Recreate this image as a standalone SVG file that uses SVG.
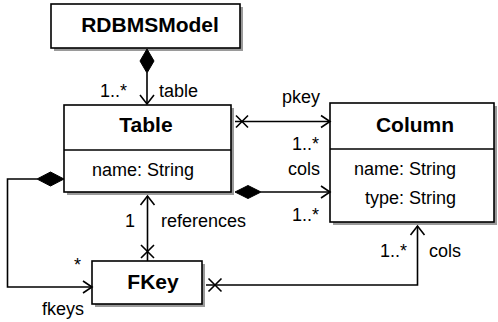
<svg xmlns="http://www.w3.org/2000/svg" width="498" height="322" viewBox="0 0 498 322">
<style>
.box{fill:#fff;stroke:#000;stroke-width:1.6}
.sh{fill:#9a9a9a}
.div{stroke:#000;stroke-width:1.6}
.ln{fill:none;stroke:#000;stroke-width:1.6}
.dm{fill:#000;stroke:#000;stroke-width:1}
text{font-family:"Liberation Sans",Arial,sans-serif;font-size:18px;fill:#000}
.b{font-weight:bold;font-size:21px}
</style>
<g id="RDBMSModel">
<rect class="sh" x="54" y="7" width="189" height="44"/>
<rect class="box" x="51" y="4" width="189" height="44"/>
<text class="b" x="150" y="32" text-anchor="middle">RDBMSModel</text>
</g>
<g id="Table">
<rect class="sh" x="67" y="108" width="167" height="87"/>
<rect class="box" x="64" y="105" width="167" height="87"/>
<line class="div" x1="64" y1="150" x2="231" y2="150"/>
<text class="b" x="146" y="132" text-anchor="middle">Table</text>
<text x="143" y="176" text-anchor="middle">name: String</text>
</g>
<g id="Column">
<rect class="sh" x="333" y="106" width="164" height="119"/>
<rect class="box" x="330" y="103" width="164" height="119"/>
<line class="div" x1="330" y1="149" x2="494" y2="149"/>
<text class="b" x="415" y="132" text-anchor="middle">Column</text>
<text x="354" y="175">name: String</text>
<text x="365" y="204">type: String</text>
</g>
<g id="FKey">
<rect class="sh" x="95" y="264" width="110" height="43"/>
<rect class="box" x="92" y="261" width="110" height="43"/>
<text class="b" x="153" y="289" text-anchor="middle">FKey</text>
</g>
<g id="connectors">
<!-- RDBMSModel -> Table -->
<line class="ln" x1="147" y1="73" x2="147" y2="104"/>
<polygon class="dm" points="147,49 154,61 147,73 140,61"/>
<polyline class="ln" points="140,95 147,104 154,95"/>
<text x="127" y="97" text-anchor="end">1..*</text>
<text x="159" y="97">table</text>
<!-- Table -> Column pkey -->
<line class="ln" x1="235" y1="121.5" x2="330" y2="121.5"/>
<path class="ln" d="M236,115.5 L248,127.5 M236,127.5 L248,115.5"/>
<polyline class="ln" points="321,115.5 330,121.5 321,127.5"/>
<text x="282" y="103">pkey</text>
<text x="319" y="150" text-anchor="end">1..*</text>
<!-- Table -> Column cols (composition) -->
<line class="ln" x1="261" y1="192" x2="330" y2="192"/>
<polygon class="dm" points="235,192 248,185.5 261,192 248,198.5"/>
<polyline class="ln" points="321,186 330,192 321,198"/>
<text x="320" y="175" text-anchor="end">cols</text>
<text x="319" y="221" text-anchor="end">1..*</text>
<!-- Table -> FKey fkeys (composition) -->
<polyline class="ln" points="37,179 7.5,179 7.5,287 92,287"/>
<polygon class="dm" points="64,179 50.5,172 37,179 50.5,186"/>
<polyline class="ln" points="83,281 92,287 83,293"/>
<text x="74" y="271">*</text>
<text x="42" y="315">fkeys</text>
<!-- FKey -> Table references -->
<line class="ln" x1="147.5" y1="196" x2="147.5" y2="261"/>
<polyline class="ln" points="140.5,205 147.5,196 154.5,205"/>
<path class="ln" d="M141,245 L154,258 M141,258 L154,245"/>
<text x="135" y="227" text-anchor="end">1</text>
<text x="161" y="227">references</text>
<!-- FKey -> Column cols -->
<polyline class="ln" points="206,285 417.5,285 417.5,226"/>
<path class="ln" d="M208.5,278.5 L221.5,291.5 M208.5,291.5 L221.5,278.5"/>
<polyline class="ln" points="410.5,235 417.5,226 424.5,235"/>
<text x="407" y="257" text-anchor="end">1..*</text>
<text x="429" y="257">cols</text>
</g>
</svg>
